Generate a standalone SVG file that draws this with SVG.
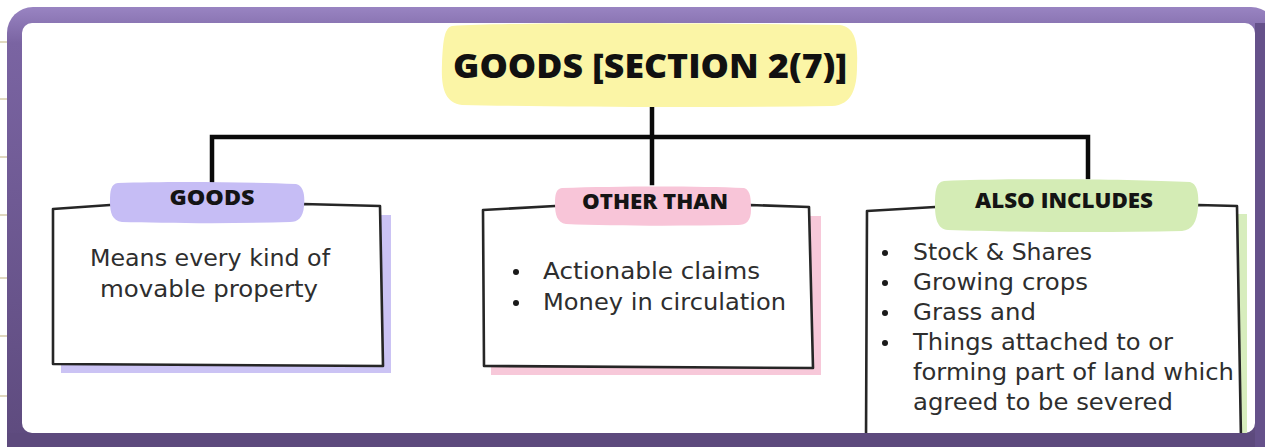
<svg xmlns="http://www.w3.org/2000/svg" width="1265" height="447" viewBox="0 0 1265 447">
  <defs>
    <linearGradient id="frameGrad" x1="0" y1="0" x2="0" y2="1">
      <stop offset="0" stop-color="#9984c2"/>
      <stop offset="0.08" stop-color="#7a64a2"/>
      <stop offset="1" stop-color="#5d4a7d"/>
    </linearGradient>
  </defs>
  <style>
    .rule { stroke: #cbbf94; stroke-width: 1.2; }
    .sketch { fill: #ffffff; stroke: #262626; stroke-width: 2.6; stroke-linejoin: round; stroke-linecap: round; }
    .link { fill: none; stroke: #0a0a0a; stroke-width: 4.5; stroke-linecap: square; }
    .title { font-family: "Open Sans", "Liberation Sans", sans-serif; font-weight: 800; fill: #111111; }
    .tag { font-family: "Open Sans", "Liberation Sans", sans-serif; font-weight: 800; font-size: 21px; fill: #141414; text-anchor: middle; }
    .body { font-family: "DejaVu Sans", "Open Sans", sans-serif; font-size: 22.5px; fill: #2e2e2e; }
    .dot { fill: #1a1a1a; }
  </style>

  <!-- notebook rules peeking out on the left -->
  <g id="rules">
    <line class="rule" x1="0" y1="42" x2="8" y2="42"/>
    <line class="rule" x1="0" y1="99" x2="8" y2="99"/>
    <line class="rule" x1="0" y1="157" x2="8" y2="157"/>
    <line class="rule" x1="0" y1="215" x2="8" y2="215"/>
    <line class="rule" x1="0" y1="278" x2="8" y2="278"/>
    <line class="rule" x1="0" y1="336" x2="8" y2="336"/>
    <line class="rule" x1="0" y1="396" x2="8" y2="396"/>
  </g>

  <!-- purple frame -->
  <g id="frame">
    <rect x="7" y="7" width="1270" height="452" rx="26" fill="url(#frameGrad)"/>
    <rect x="22" y="23" width="1233" height="410" rx="10" fill="#ffffff"/>
  </g>

  <!-- connectors -->
  <g id="connectors">
    <line class="link" x1="652" y1="104" x2="652" y2="183"/>
    <polyline class="link" points="212,183 212,137 1088,137 1088,177"/>
  </g>

  <!-- root -->
  <g id="node-root">
    <path d="M452,26 C520,22 700,23 840,25 C856,27 858,45 857,66 C857,88 852,105 832,106 C700,108 560,107 462,105 C444,103 441,86 442,64 C443,42 444,28 452,26 Z" fill="#fbf5a6"/>
    <text class="title" x="650" y="78" font-size="33" text-anchor="middle" textLength="394" lengthAdjust="spacingAndGlyphs">GOODS [SECTION 2(7)]</text>
  </g>

  <!-- goods -->
  <g id="node-goods">
    <rect x="61" y="215" width="330" height="158" fill="#cbc3f4"/>
    <path class="sketch" d="M53,209 L110,205 L303,204 L380,206 L383,366 L53,364 Z"/>
    <path d="M118,183 C170,181 250,182 296,184 C304,186 305,196 304,206 C303,218 298,222 290,222 C230,224 160,223 122,222 C112,221 110,212 110,202 C110,190 111,184 118,183 Z" fill="#c6bdf5"/>
    <text class="tag" x="212" y="205" textLength="85" lengthAdjust="spacingAndGlyphs">GOODS</text>
    <text class="body" x="210" y="266" text-anchor="middle" textLength="240" lengthAdjust="spacingAndGlyphs">Means every kind of</text>
    <text class="body" x="209" y="297" text-anchor="middle" textLength="218" lengthAdjust="spacingAndGlyphs">movable property</text>
  </g>

  <!-- other than -->
  <g id="node-other">
    <rect x="491" y="216" width="330" height="159" fill="#f7c8d9"/>
    <path class="sketch" d="M483,210 L555,206 L750,205 L809,207 L813,368 L484,366 Z"/>
    <path d="M562,188 C620,186 700,186 744,188 C751,190 751,200 751,210 C751,221 746,225 738,225 C680,226 610,226 566,224 C557,223 555,214 555,204 C555,194 556,189 562,188 Z" fill="#f8c5d8"/>
    <text class="tag" x="655" y="209" textLength="146" lengthAdjust="spacingAndGlyphs">OTHER THAN</text>
    <circle class="dot" cx="516" cy="272" r="3"/>
    <circle class="dot" cx="516" cy="303" r="3"/>
    <text class="body" x="543" y="279" textLength="217" lengthAdjust="spacingAndGlyphs">Actionable claims</text>
    <text class="body" x="543" y="310" textLength="243" lengthAdjust="spacingAndGlyphs">Money in circulation</text>
  </g>

  <!-- also includes -->
  <g id="node-also">
    <rect x="875" y="214" width="372" height="230" fill="#d7edbd"/>
    <path class="sketch" d="M867,211 L935,207 L1198,205 L1237,206 L1241,440 L866,440 Z"/>
    <path d="M944,181 C1020,178 1130,179 1190,182 C1198,184 1199,196 1198,208 C1197,222 1192,230 1182,231 C1100,233 1010,232 948,230 C937,229 935,218 935,205 C935,191 936,182 944,181 Z" fill="#d4ecb5"/>
    <text class="tag" x="1064" y="208" textLength="178" lengthAdjust="spacingAndGlyphs">ALSO INCLUDES</text>
    <circle class="dot" cx="885" cy="253" r="3"/>
    <circle class="dot" cx="885" cy="283" r="3"/>
    <circle class="dot" cx="885" cy="313" r="3"/>
    <circle class="dot" cx="885" cy="343" r="3"/>
    <text class="body" x="913" y="260" textLength="179" lengthAdjust="spacingAndGlyphs">Stock &amp; Shares</text>
    <text class="body" x="913" y="290" textLength="175" lengthAdjust="spacingAndGlyphs">Growing crops</text>
    <text class="body" x="913" y="320" textLength="123" lengthAdjust="spacingAndGlyphs">Grass and</text>
    <text class="body" x="913" y="350" textLength="260" lengthAdjust="spacingAndGlyphs">Things attached to or</text>
    <text class="body" x="913" y="380" textLength="321" lengthAdjust="spacingAndGlyphs">forming part of land which</text>
    <text class="body" x="913" y="410" textLength="260" lengthAdjust="spacingAndGlyphs">agreed to be severed</text>
  </g>

  <!-- frame bottom and right edges drawn over the clipped box -->
  <g id="frame-bottom">
    <path d="M7,433 L1277,433 L1277,459 L7,459 Z" fill="#5d4a7d"/>
    <rect x="1255" y="23" width="22" height="436" fill="#65518a"/>
  </g>
</svg>
